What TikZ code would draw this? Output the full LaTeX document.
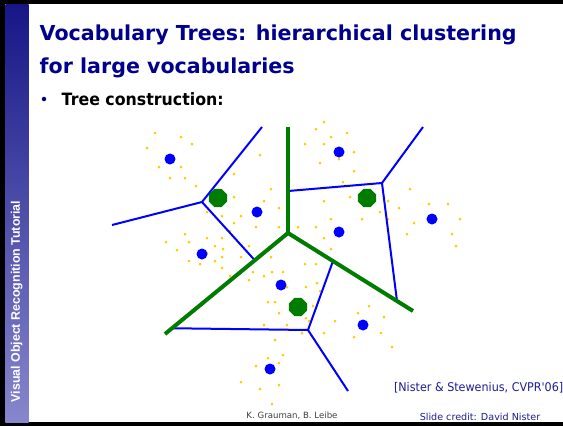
\documentclass[tikz,border=0pt]{standalone}
\usepackage{fontspec}
\setmainfont{DejaVu Sans}
\newfontfamily\slidefont{DejaVu Sans}
\newfontfamily\bulletfont[FakeStretch=0.93]{DejaVu Sans}
\newfontfamily\sidefont{Liberation Sans}
\usepackage{tikz}
\usetikzlibrary{calc, shapes.geometric}

\definecolor{slideblue}{RGB}{0,0,140}
\definecolor{credblue}{RGB}{30,30,150}
\definecolor{sidetop}{RGB}{22,22,135}
\definecolor{sidebot}{RGB}{135,135,205}
\definecolor{treegreen}{RGB}{0,125,0}
\definecolor{featyellow}{RGB}{255,204,0}

\tikzset{
  titleline/.style={anchor=base west, inner sep=0pt, text=slideblue, font=\slidefont\bfseries\fontsize{20.6}{24}\selectfont},
  cell/.style={draw=blue, line width=2pt},
  branch/.style={draw=treegreen, line width=4pt},
  topcenter/.style={regular polygon, regular polygon sides=8, fill=treegreen, inner sep=0pt, minimum size=19.5pt},
  leafword/.style={circle, fill=blue, inner sep=0pt, minimum size=11pt},
  feat/.style={circle, fill=featyellow, inner sep=0pt, minimum size=3pt}
}

\begin{document}
\begin{tikzpicture}[x=1pt, y=-1pt]
    \useasboundingbox (0,0) rectangle (563,426);
    \fill[white] (0,0) rectangle (563,426);

    % frame and side bar
    \fill[black] (0,0) rectangle (563,4.3);
    \fill[black] (0,422) rectangle (563,426);
    \fill[black] (0,0) rectangle (5.4,426);
    \shade[top color=sidetop, bottom color=sidebot] (5.4,4.3) rectangle (28.7,422);
    \node[rotate=90, text=white, font=\sidefont\bfseries\fontsize{12.4}{14}\selectfont] (side) at (16.7,301.5) {Visual Object Recognition Tutorial};

    % title
    \node[titleline] (title) at (39.5,40) {Vocabulary Trees: hierarchical clustering};
    \node[titleline] (title2) at (39.5,73.6) {for large vocabularies};
    \node[circle, fill=slideblue, inner sep=0pt, minimum size=4.5pt] (bullet) at (44,99) {};
    \node[anchor=base west, inner sep=0pt, font=\bulletfont\bfseries\fontsize{17}{20}\selectfont] (sub) at (61.5,105.5) {Tree construction:};

    % features
    \foreach \p in {(155,133),(181,137),(192,144),(147,148),(159,167),(181,167),(170,178),(185,178),(196,186),
        (260,155),(234,174),(271,189),(234,197),(264,201),(279,208),(207,212),(222,216),(241,216),(234,223),(256,227),(279,227),(230,231),
        (185,234),(207,238),(222,238),(166,242),(189,242),(215,246),(177,250),(207,253),(223,249),(222,257),(249,246),(241,257),(271,257),(189,261),(200,264),(215,261),(222,268),
        (324,122),(316,129),(331,137),(347,133),(305,144),(324,144),(354,152),(339,159),(320,163),(354,171),(343,182),
        (324,201),(350,197),(331,219),(362,219),(380,212),(388,201),(388,219),(399,208),(298,227),(316,227),(324,238),(331,249),(305,264),(316,264),
        (410,189),(429,204),(448,204),(460,219),(414,223),(407,234),(452,234),(456,246),
        (230,276),(253,272),(249,280),(264,276),(272,272),(283,272),(287,287),(306,287),(317,283),(320,291),(268,302),(275,302),(279,313),(264,325),(287,325),(302,333),(306,318),(313,306),(309,321),(275,340),
        (335,321),(324,333),(358,313),(369,306),(384,317),(354,337),(381,333),(392,347),
        (268,358),(283,355),(279,363),(256,366),(241,382),(260,389),(279,385),(272,404)}
        \node[feat] at \p {};

    % first level split
    \coordinate (root) at (288,233);
    \coordinate (rtop) at (288,127);
    \coordinate (rleft) at (165,334);
    \coordinate (rright) at (413,311);

    % second level cells
    \coordinate (ja) at (202,202);
    \coordinate (jb) at (382,183);
    \coordinate (jc) at (308,330);
    \coordinate (ea) at (262,127);
    \coordinate (eb) at (112,225);
    \coordinate (ec) at (423,127);
    \coordinate (ed) at (348,391);

    \draw[cell] (ea) -- (ja) -- (eb);
    \draw[cell] (ja) -- ($(root)!0.27!(rleft)$);
    \draw[cell] ($(root)!0.396!(rtop)$) -- (jb) -- (ec);
    \draw[cell] (jb) -- ($(root)!0.872!(rright)$);
    \draw[cell] ($(root)!0.943!(rleft)$) -- (jc) -- (ed);
    \draw[cell] (jc) -- ($(root)!0.36!(rright)$);

    \draw[branch] (rtop) -- (root);
    \draw[branch] (rleft) -- (root) -- (rright);

    % cluster centers
    \node[topcenter] (ca) at (218,198) {};
    \node[topcenter] (cb) at (367,198) {};
    \node[topcenter] (cc) at (298,307) {};

    \node[leafword] (w1) at (170,159) {};
    \node[leafword] (w2) at (257,212) {};
    \node[leafword] (w3) at (202,254) {};
    \node[leafword] (w4) at (339,152) {};
    \node[leafword] (w5) at (339,232) {};
    \node[leafword] (w6) at (432,219) {};
    \node[leafword] (w7) at (281,285) {};
    \node[leafword] (w8) at (363,325) {};
    \node[leafword] (w9) at (270,369) {};

    % credits
    \node[text=credblue, font=\bulletfont\fontsize{12}{14}\selectfont, anchor=east, inner sep=0pt] (ref) at (563.5,388) {[Nister \& Stewenius, CVPR'06]};
    \node[text=black!75, font=\slidefont\fontsize{8.6}{10}\selectfont, inner sep=0pt] (auth) at (292,416) {K. Grauman, B. Leibe};
    \node[text=credblue, font=\slidefont\fontsize{9.6}{11}\selectfont, inner sep=0pt] (credit) at (480,417) {Slide credit: David Nister};
\end{tikzpicture}
\end{document}
